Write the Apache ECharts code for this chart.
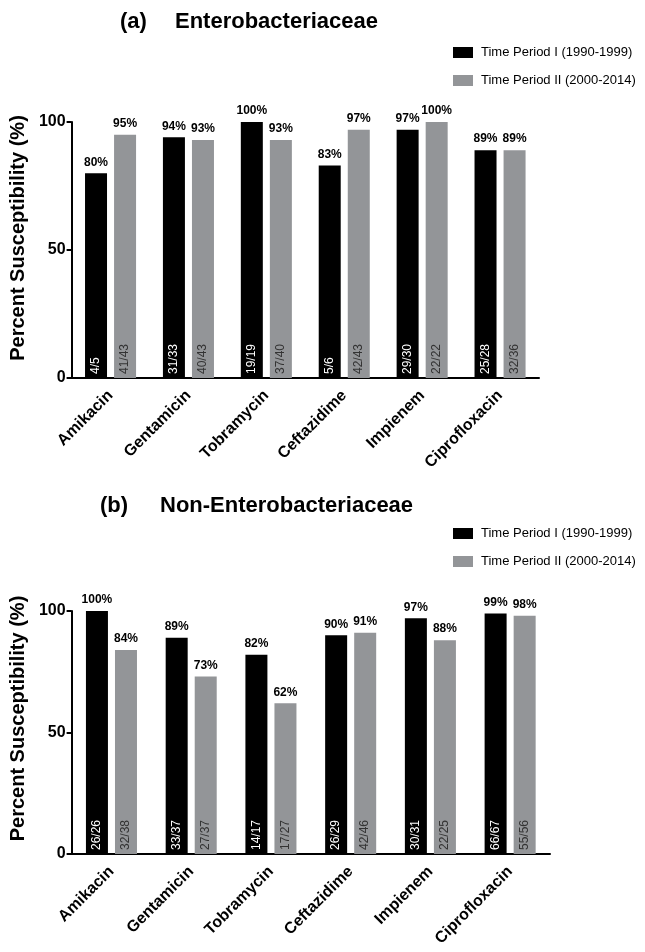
<!DOCTYPE html>
<html>
<head>
<meta charset="utf-8">
<script src="https://cdn.jsdelivr.net/npm/echarts@6/dist/echarts.min.js"></script>
<style>
  html, body { margin: 0; padding: 0; background: #fff; }
  #chart { width: 645px; height: 952px; }
</style>
</head>
<body>
<div id="chart"></div>
<script>
// categories
const drugs = ['Amikacin', 'Gentamicin', 'Tobramycin', 'Ceftazidime', 'Impienem', 'Ciprofloxacin'];
const yTicks = [0, 50, 100];
const seriesNames = ['Time Period I (1990-1999)', 'Time Period II (2000-2014)'];

// (a) Enterobacteriaceae
const entPeriod1 = [80, 94, 100, 83, 97, 89];
const entPeriod2 = [95, 93, 93, 97, 100, 89];
const entCount1 = ['4/5', '31/33', '19/19', '5/6', '29/30', '25/28'];
const entCount2 = ['41/43', '40/43', '37/40', '42/43', '22/22', '32/36'];

// (b) Non-Enterobacteriaceae
const nonPeriod1 = [100, 89, 82, 90, 97, 99];
const nonPeriod2 = [84, 73, 62, 91, 88, 98];
const nonCount1 = ['26/26', '33/37', '14/17', '26/29', '30/31', '66/67'];
const nonCount2 = ['32/38', '27/37', '17/27', '42/46', '22/25', '55/56'];

const FONT = 'Liberation Sans, Arial, Helvetica, sans-serif';
const BLACK = '#000000';
const GRAY = '#939598';

function xAxisFor(gridIndex) {
  return {
    type: 'category',
    gridIndex: gridIndex,
    data: drugs,
    axisLine: { lineStyle: { color: '#000', width: 2 } },
    axisTick: { alignWithLabel: true, length: 5, lineStyle: { color: '#000', width: 2 } },
    axisLabel: {
      interval: 0, rotate: 45, margin: 15,
      color: '#000', fontFamily: FONT, fontWeight: 'bold', fontSize: 16
    }
  };
}

function yAxisFor(gridIndex, shift) {
  return {
    type: 'value',
    gridIndex: gridIndex,
    min: yTicks[0],
    max: yTicks[yTicks.length - 1],
    interval: yTicks[1] - yTicks[0],
    name: 'Percent Susceptibility (%)',
    nameLocation: 'middle',
    nameGap: 30,
    nameTextStyle: {
      color: '#000', fontFamily: FONT, fontWeight: 'bold', fontSize: 20,
      padding: [0, 0, 0, shift]
    },
    axisLine: { show: true, lineStyle: { color: '#000', width: 2 } },
    axisTick: { show: true, length: 5, lineStyle: { color: '#000', width: 2 } },
    axisLabel: { margin: 6, color: '#000', fontFamily: FONT, fontWeight: 'bold', fontSize: 16 },
    splitLine: { show: false }
  };
}

// real bar, with the n/N count written inside at the bottom
function barSeries(name, idx, stack, values, counts, color, countColor) {
  return {
    name: name,
    type: 'bar',
    xAxisIndex: idx,
    yAxisIndex: idx,
    stack: stack,
    data: values,
    barWidth: 22,
    barGap: '32%',
    itemStyle: { color: color },
    label: {
      show: true,
      position: 'insideBottom',
      distance: 4,
      rotate: 90,
      align: 'left',
      verticalAlign: 'middle',
      formatter: function (p) { return counts[p.dataIndex]; },
      color: countColor, fontFamily: FONT, fontSize: 12
    }
  };
}

// zero-height bar stacked on top, only carries the percent label
function percentSeries(name, idx, stack, values) {
  return {
    name: name,
    type: 'bar',
    xAxisIndex: idx,
    yAxisIndex: idx,
    stack: stack,
    data: values.map(function () { return 0; }),
    barWidth: 22,
    barGap: '32%',
    silent: true,
    itemStyle: { color: 'rgba(0,0,0,0)' },
    label: {
      show: true, position: 'top', distance: 5,
      formatter: function (p) { return values[p.dataIndex] + '%'; },
      color: '#000', fontFamily: FONT, fontWeight: 'bold', fontSize: 12
    }
  };
}

const legendStyle = {
  orient: 'vertical',
  left: 448,
  itemWidth: 20,
  itemHeight: 11,
  itemGap: 15,
  icon: 'rect',
  textStyle: { color: '#000', fontFamily: FONT, fontSize: 13, padding: [0, 0, 0, 3] },
  data: seriesNames
};

const chart = echarts.init(document.getElementById('chart'), null, { renderer: 'canvas' });

const series = [
  barSeries(seriesNames[0], 0, 'a1', entPeriod1, entCount1, BLACK, '#ffffff'),
  percentSeries(seriesNames[0], 0, 'a1', entPeriod1),
  barSeries(seriesNames[1], 0, 'a2', entPeriod2, entCount2, GRAY, '#333333'),
  percentSeries(seriesNames[1], 0, 'a2', entPeriod2),
  barSeries(seriesNames[0], 1, 'b1', nonPeriod1, nonCount1, BLACK, '#ffffff'),
  percentSeries(seriesNames[0], 1, 'b1', nonPeriod1),
  barSeries(seriesNames[1], 1, 'b2', nonPeriod2, nonCount2, GRAY, '#333333'),
  percentSeries(seriesNames[1], 1, 'b2', nonPeriod2)
];

const titleStyle = { fontFamily: FONT, fontWeight: 'bold', fontSize: 22, color: '#000' };

const option = {
  backgroundColor: '#ffffff',
  animation: false,
  title: [
    { text: '(a)', left: 115, top: 6, textStyle: titleStyle },
    { text: 'Enterobacteriaceae', left: 170, top: 6, textStyle: titleStyle },
    { text: '(b)', left: 95, top: 490, textStyle: titleStyle },
    { text: 'Non-Enterobacteriaceae', left: 155, top: 490, textStyle: titleStyle }
  ],
  legend: [
    Object.assign({}, legendStyle, { top: 41 }),
    Object.assign({}, legendStyle, { top: 522 })
  ],
  grid: [
    { left: 63, top: 122, width: 476, height: 256 },
    { left: 64, top: 611, width: 486, height: 243 }
  ],
  xAxis: [xAxisFor(0), xAxisFor(1)],
  yAxis: [yAxisFor(0, 24), yAxisFor(1, 28)],
  series: series
};

chart.setOption(option);
</script>
</body>
</html>
